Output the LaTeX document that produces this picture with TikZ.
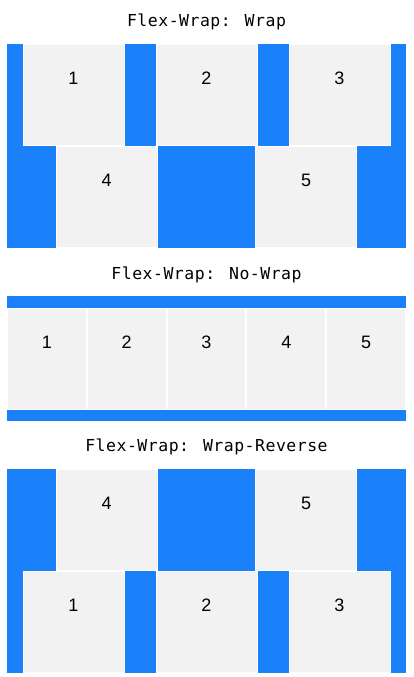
\documentclass[tikz,border=0pt]{standalone}
\usepackage{fontspec}
\newfontfamily\titlefont[LetterSpace=3]{DejaVu Sans Mono}
\newfontfamily\numfont{Liberation Sans}
\definecolor{flexblue}{HTML}{1A81FB}
\definecolor{itemgray}{HTML}{F2F2F2}
\begin{document}
\begin{tikzpicture}[x=1pt,y=-1pt,
  container/.style={fill=flexblue,draw=none},
  item/.style={fill=itemgray,draw=white,line width=1pt,inner sep=0pt,outer sep=0pt,
    minimum width=101pt,minimum height=101pt},
  narrow/.style={item,minimum width=78.8pt},
  num/.style={font=\numfont\fontsize{18}{20}\selectfont,anchor=base,inner sep=0pt},
  title/.style={font=\titlefont\fontsize{16.5}{18}\selectfont,anchor=base,inner sep=0pt}]
\useasboundingbox[fill=white] (0,0) rectangle (413,677);

% ---------- Section 1: wrap ----------
\node[title] (t1) at (206.5,26.5) {Flex-Wrap: Wrap};
\fill[container] (7,44) rectangle (406,248);
\node[item] (a1) at (73.5,95) {};
\node[item] (a2) at (206.5,95) {};
\node[item] (a3) at (339.5,95) {};
\node[item] (a4) at (106.75,197) {};
\node[item] (a5) at (306.25,197) {};
\foreach \n/\t in {a1/1,a2/2,a3/3,a4/4,a5/5}
  \node[num] at ([yshift=-40pt]\n.north) {\t};

% ---------- Section 2: no-wrap ----------
\node[title] (t2) at (206.5,279.3) {Flex-Wrap: No-Wrap};
\fill[container] (7,296) rectangle (406,421);
\foreach \i in {1,...,5}{
  \node[narrow] (b\i) at ({7+79.8*(\i-1)+39.9},358.5) {};
  \node[num] at ([yshift=-40pt]b\i.north) {\i};
}

% ---------- Section 3: wrap-reverse ----------
\node[title] (t3) at (206.5,451.7) {Flex-Wrap: Wrap-Reverse};
\fill[container] (7,469) rectangle (406,673);
\node[item] (c4) at (106.75,520) {};
\node[item] (c5) at (306.25,520) {};
\node[item] (c1) at (73.5,622) {};
\node[item] (c2) at (206.5,622) {};
\node[item] (c3) at (339.5,622) {};
\foreach \n/\t in {c1/1,c2/2,c3/3,c4/4,c5/5}
  \node[num] at ([yshift=-40pt]\n.north) {\t};
\end{tikzpicture}
\end{document}
